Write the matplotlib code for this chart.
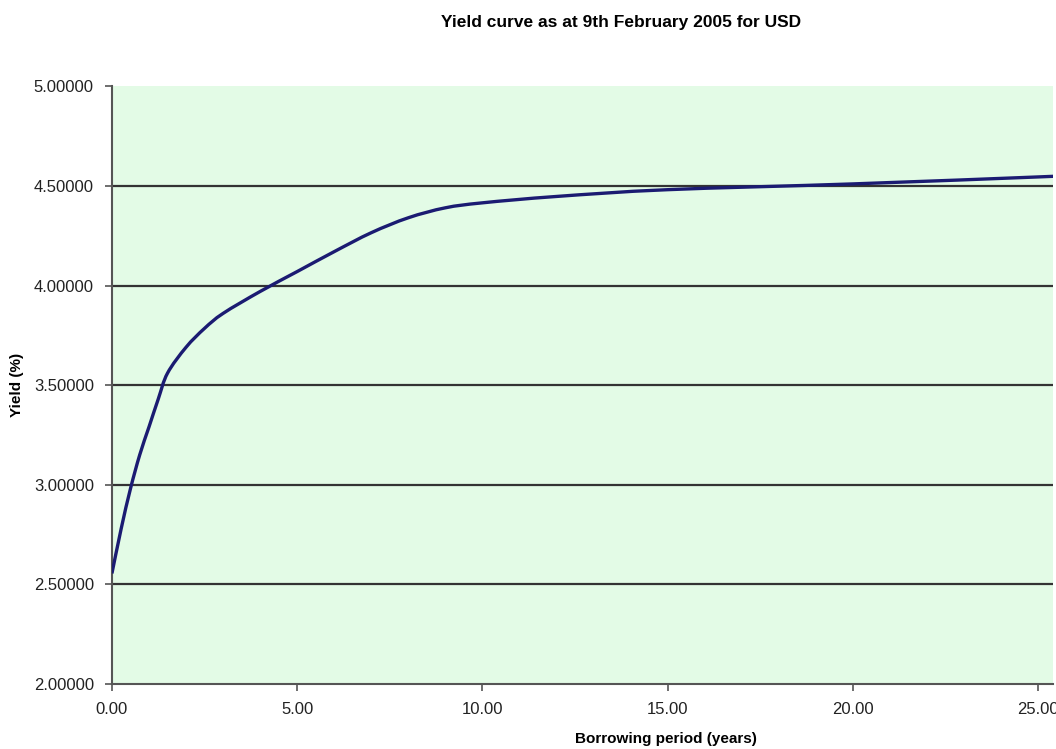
import numpy as np
import matplotlib.pyplot as plt
from matplotlib.path import Path
from matplotlib.patches import PathPatch

# values
years = [0.0, 0.25, 0.5, 0.75, 1.0, 1.25, 1.5, 2.0, 2.5, 3.0, 4.0, 5.0, 6.0, 7.0,
         8.0, 9.0, 10.0, 12.0, 15.0, 20.0, 25.0, 26.0]
yields = [2.555, 2.78, 2.98, 3.15, 3.29, 3.43, 3.56, 3.69, 3.785, 3.86, 3.97,
          4.07, 4.17, 4.265, 4.34, 4.39, 4.415, 4.447, 4.481, 4.51, 4.545, 4.553]
x_ticks = [0, 5, 10, 15, 20, 25]
y_ticks = [2.0, 2.5, 3.0, 3.5, 4.0, 4.5, 5.0]


def smooth_path(x, y, t=1/6):
    # Excel-style smoothed line: cubic Bezier segments through every point
    p = np.column_stack([x, y])
    verts = [p[0]]
    codes = [Path.MOVETO]
    n = len(p)
    for i in range(n - 1):
        p0 = p[i - 1] if i > 0 else p[i]
        p3 = p[i + 2] if i + 2 < n else p[i + 1]
        c1 = p[i] + (p[i + 1] - p0) * t
        c2 = p[i + 1] - (p3 - p[i]) * t
        verts += [c1, c2, p[i + 1]]
        codes += [Path.CURVE4] * 3
    return Path(verts, codes)


plt.rcParams['font.family'] = ['Liberation Sans', 'DejaVu Sans']

fig = plt.figure(figsize=(10.56, 7.49), dpi=100)
ax = fig.add_axes([0.106, 0.0868, 0.891, 0.798])
ax.set_facecolor('#e3fbe6')

for v in y_ticks[1:-1]:
    ax.axhline(v, color='#333333', lw=1.6, zorder=1)

curve = PathPatch(smooth_path(years, yields), facecolor='none',
                  edgecolor='#1b1b72', lw=2.4, zorder=3)
ax.add_patch(curve)

ax.set_xlim(0, 25.4)
ax.set_ylim(2.0, 5.0)
ax.set_xticks(x_ticks)
ax.set_xticklabels([f'{v:.2f}' for v in x_ticks])
ax.set_yticks(y_ticks)
ax.set_yticklabels([f'{v:.5f}' for v in y_ticks])
ax.tick_params(axis='both', direction='out', length=5, width=1.2, color='#555555',
               labelsize=12, labelcolor='#222222')
ax.tick_params(axis='x', pad=8)
ax.tick_params(axis='y', pad=8)

for s in ['top', 'right']:
    ax.spines[s].set_visible(False)
for s in ['left', 'bottom']:
    ax.spines[s].set_color('#555555')
    ax.spines[s].set_linewidth(1.5)

fig.text(621 / 1056, 1 - 22 / 749, 'Yield curve as at 9th February 2005 for USD',
         ha='center', va='center', fontsize=12.5, fontweight='bold')
fig.text(666 / 1056, 1 - 739 / 749, 'Borrowing period (years)',
         ha='center', va='center', fontsize=11, fontweight='bold')
fig.text(17 / 1056, 1 - 385 / 749, 'Yield (%)', rotation=90,
         ha='center', va='center', fontsize=11, fontweight='bold')

fig.savefig('out.png', dpi=100)
